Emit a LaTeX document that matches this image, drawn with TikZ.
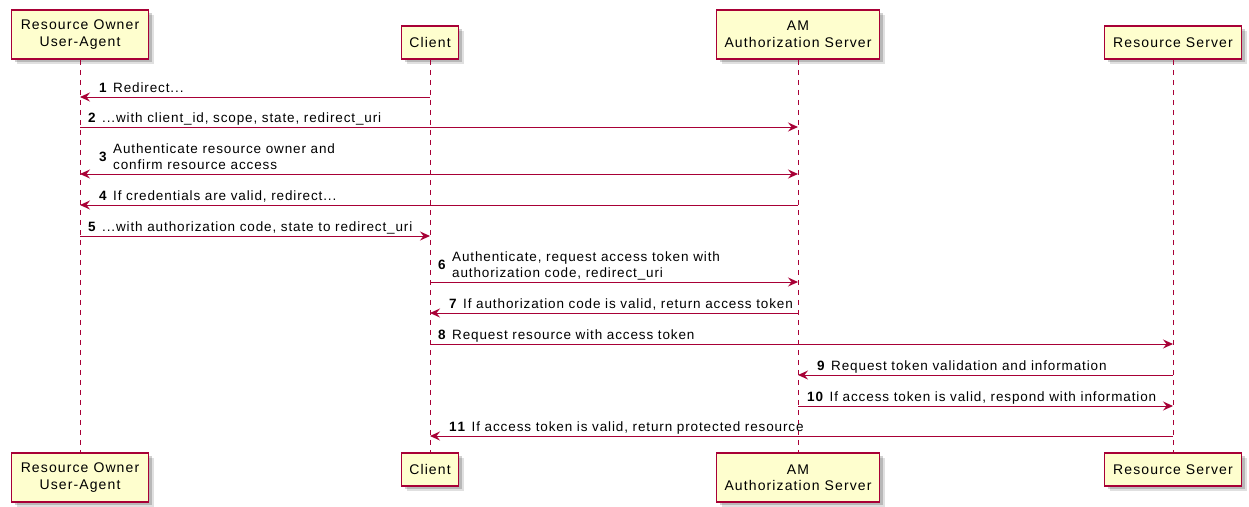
\documentclass[tikz,border=0pt]{standalone}
\usepackage{fontspec}
\setmainfont{Liberation Sans}
\newfontfamily\partfont[LetterSpace=8]{Liberation Sans}
\newfontfamily\msgfont[LetterSpace=6.5]{Liberation Sans}
\usetikzlibrary{arrows.meta}
\definecolor{pcrim}{HTML}{A80036}
\definecolor{pfill}{HTML}{FEFECE}
\tikzset{
  part/.style={draw=pcrim, line width=1.7pt, fill=pfill, align=center, inner sep=0pt,
    font=\partfont\fontsize{14}{16.5}\selectfont,
    preaction={fill=black, opacity=0.12, transform canvas={xshift=5pt,yshift=-5pt}},
    preaction={fill=black, opacity=0.18, transform canvas={xshift=3pt,yshift=-3pt}}},
  two/.style={minimum height=49pt},
  one/.style={minimum height=33pt},
  life/.style={draw=pcrim, line width=0.8pt, dash pattern=on 5pt off 5pt},
  tip/.tip={Stealth[length=10pt,width=9pt,inset=3.5pt]},
  msg/.style={draw=pcrim, line width=1pt, -tip},
  bimsg/.style={draw=pcrim, line width=1pt, tip-tip},
  lbl/.style={anchor=base west, inner sep=0pt, font=\msgfont\fontsize{13.5}{16}\selectfont},
}
\begin{document}
\begin{tikzpicture}[x=1pt,y=-1pt]
\useasboundingbox (0,0) rectangle (1249,506);
% participants (top)
\node[part, two, minimum width=137pt] (ro) at (80,34.5) {Resource Owner\\User-Agent};
\node[part, one, minimum width=57pt] (cl) at (430,42.5) {Client};
\node[part, two, minimum width=163pt] (am) at (798,34.5) {AM\\Authorization Server};
\node[part, one, minimum width=137pt] (rs) at (1173,42.5) {Resource Server};
% participants (bottom)
\node[part, two, minimum width=137pt] (ro2) at (80,477.5) {Resource Owner\\User-Agent};
\node[part, one, minimum width=57pt] (cl2) at (430,469.5) {Client};
\node[part, two, minimum width=163pt] (am2) at (798,477.5) {AM\\Authorization Server};
\node[part, one, minimum width=137pt] (rs2) at (1173,469.5) {Resource Server};
% lifelines
\draw[life] (ro.south) -- (ro2.north);
\draw[life] (cl.south) -- (cl2.north);
\draw[life] (am.south) -- (am2.north);
\draw[life] (rs.south) -- (rs2.north);
% message rows
\coordinate (m1) at (0,97);
\coordinate (m2) at (0,127);
\coordinate (m3) at (0,174);
\coordinate (m4) at (0,205);
\coordinate (m5) at (0,236);
\coordinate (m6) at (0,282);
\coordinate (m7) at (0,313);
\coordinate (m8) at (0,344);
\coordinate (m9) at (0,375);
\coordinate (m10) at (0,406);
\coordinate (m11) at (0,436);
% arrows
\draw[msg] (cl |- m1) -- (ro |- m1);
\draw[msg] (ro |- m2) -- (am |- m2);
\draw[bimsg] (ro |- m3) -- (am |- m3);
\draw[msg] (am |- m4) -- (ro |- m4);
\draw[msg] (ro |- m5) -- (cl |- m5);
\draw[msg] (cl |- m6) -- (am |- m6);
\draw[msg] (am |- m7) -- (cl |- m7);
\draw[msg] (cl |- m8) -- (rs |- m8);
\draw[msg] (rs |- m9) -- (am |- m9);
\draw[msg] (am |- m10) -- (rs |- m10);
\draw[msg] (rs |- m11) -- (cl |- m11);
% labels
\node[lbl] (l1) at (99,92) {\textbf{1}\hspace{1pt} Redirect...};
\node[lbl] (l2) at (88,122) {\textbf{2}\hspace{1pt} ...with client\_id, scope, state, redirect\_uri};
\node[lbl] (l3n) at (99,161) {\textbf{3}};
\node[lbl] (l3a) at (113,153) {Authenticate resource owner and};
\node[lbl] (l3b) at (113,169) {confirm resource access};
\node[lbl] (l4) at (99,200) {\textbf{4}\hspace{1pt} If credentials are valid, redirect...};
\node[lbl] (l5) at (88,231) {\textbf{5}\hspace{1pt} ...with authorization code, state to redirect\_uri};
\node[lbl] (l6n) at (438,269) {\textbf{6}};
\node[lbl] (l6a) at (452,261) {Authenticate, request access token with};
\node[lbl] (l6b) at (452,277) {authorization code, redirect\_uri};
\node[lbl] (l7) at (449,308) {\textbf{7}\hspace{1pt} If authorization code is valid, return access token};
\node[lbl] (l8) at (438,339) {\textbf{8}\hspace{1pt} Request resource with access token};
\node[lbl] (l9) at (817,370) {\textbf{9}\hspace{1pt} Request token validation and information};
\node[lbl] (l10) at (807,401) {\textbf{1\hspace{1pt}0}\hspace{1pt} If access token is valid, respond with information};
\node[lbl] (l11) at (449,431) {\textbf{1\hspace{1pt}1}\hspace{1pt} If access token is valid, return protected resource};
\end{tikzpicture}
\end{document}
